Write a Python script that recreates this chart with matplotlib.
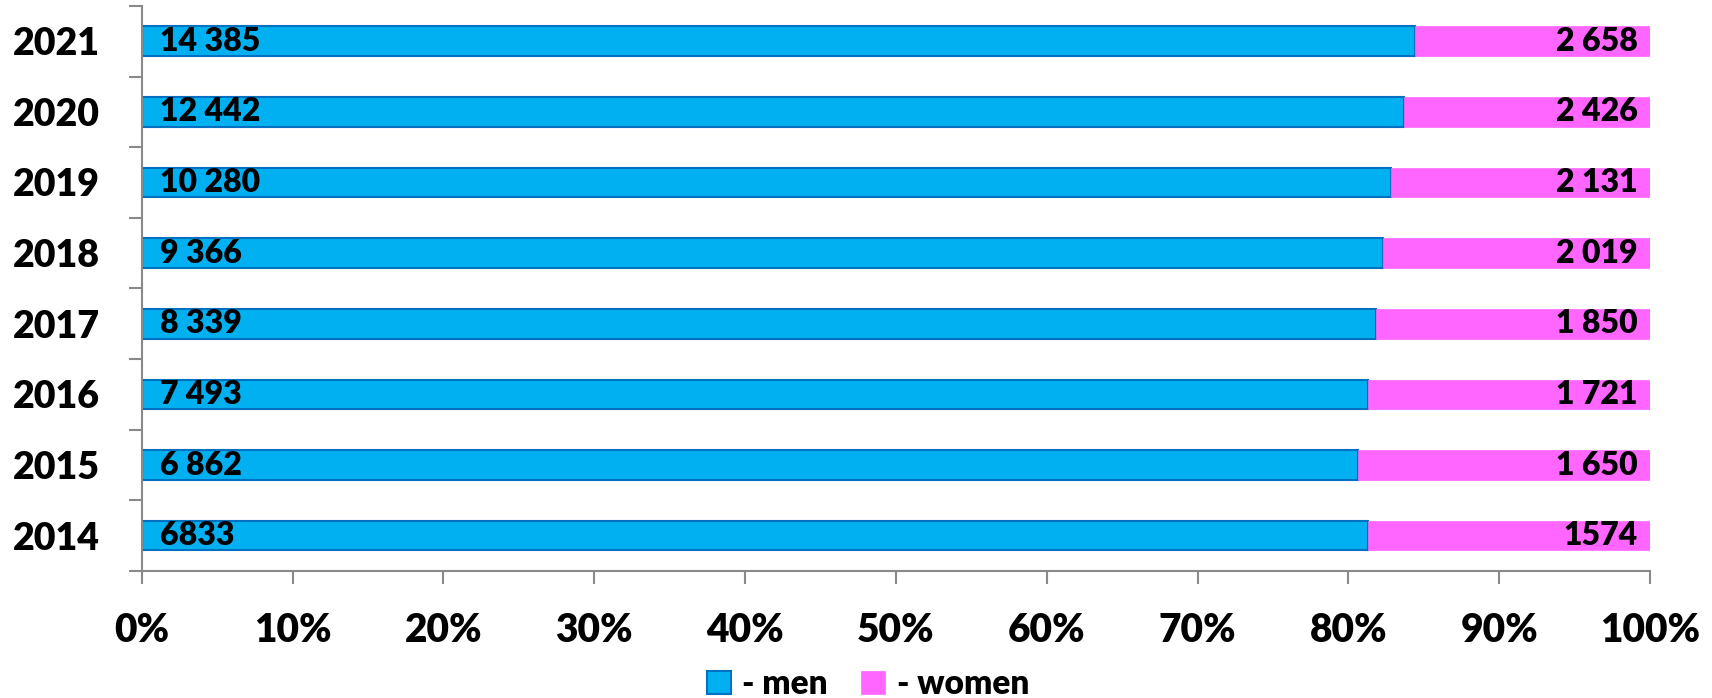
import numpy as np
import matplotlib.pyplot as plt

plt.rcParams['font.family'] = ['Lato', 'DejaVu Sans']
plt.rcParams['font.weight'] = 'heavy'

years = ['2014', '2015', '2016', '2017', '2018', '2019', '2020', '2021']
men = np.array([6833, 6862, 7493, 8339, 9366, 10280, 12442, 14385])
women = np.array([1574, 1650, 1721, 1850, 2019, 2131, 2426, 2658])
# 2014 is printed without the thousands space in the original
men_labels = ['6833', '6 862', '7 493', '8 339', '9 366', '10 280', '12 442', '14 385']
women_labels = ['1574', '1 650', '1 721', '1 850', '2 019', '2 131', '2 426', '2 658']

total = men + women
men_share = men / total
women_share = women / total

fig = plt.figure(figsize=(17.12, 6.98), dpi=100)
ax = fig.add_axes([0.0828, 0.182, 0.881, 0.8096])

y = np.arange(len(years))
h = 0.42
ax.barh(y, men_share, height=h, color='#00B0F0', edgecolor='#0070C0',
        linewidth=1.5, label='- men')
ax.barh(y, women_share, left=men_share, height=h, color='#FF66FF',
        edgecolor='#FF66FF', linewidth=0.5, label='- women')

for i in range(len(years)):
    ax.text(0.012, y[i], men_labels[i], ha='left', va='center',
            fontsize=23, fontweight='heavy', color='black')
    ax.text(0.992, y[i], women_labels[i], ha='right', va='center',
            fontsize=23, fontweight='heavy', color='black')

ax.set_xlim(0, 1)
ax.set_ylim(-0.5, len(years) - 0.5)

grey = '#898989'
ax.set_xticks(np.linspace(0, 1, 11))
ax.set_xticklabels([f'{p}%' for p in range(0, 101, 10)], fontsize=28,
                   fontweight='heavy')
ax.tick_params(axis='x', direction='out', length=9.5, width=1.5,
               color=grey, pad=20)

# ticks between categories, labels at the centres
ax.set_yticks(np.arange(-0.5, len(years), 1))
ax.set_yticklabels([])
ax.set_yticks(y, minor=True)
ax.set_yticklabels(years, minor=True, fontsize=27, fontweight='heavy')
ax.tick_params(axis='y', which='major', direction='out', length=9.5,
               width=1.5, color=grey)
ax.tick_params(axis='y', which='minor', length=0, pad=30)

for s in ['top', 'right']:
    ax.spines[s].set_visible(False)
for s in ['left', 'bottom']:
    ax.spines[s].set_color(grey)
    ax.spines[s].set_linewidth(1.5)

fig.legend(loc='center', bbox_to_anchor=(868 / 1712, 1 - 684 / 698),
           ncol=2, frameon=False, prop={'size': 24, 'weight': 'heavy'},
           handlelength=0.72, handleheight=0.7, handletextpad=0.35,
           columnspacing=1.0, borderpad=0)

fig.savefig('out.png', dpi=100)
